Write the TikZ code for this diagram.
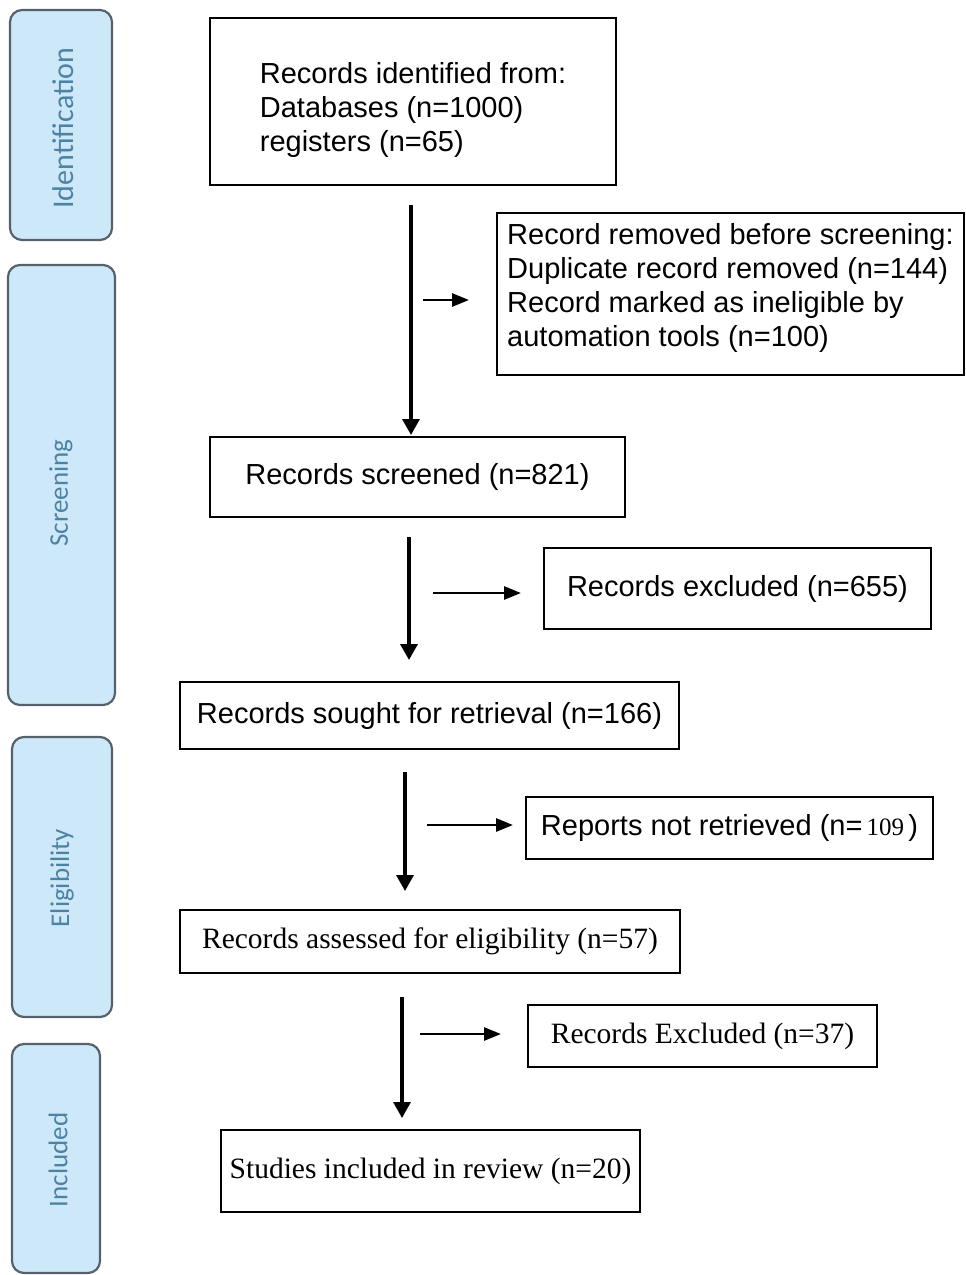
\documentclass[tikz,border=0pt]{standalone}
\usepackage{fontspec}
\setmainfont{Liberation Sans}
\newfontfamily\timesfont{Liberation Serif}
\newfontfamily\phasefont{Carlito}
\usetikzlibrary{arrows.meta,positioning}
\definecolor{phasefill}{HTML}{CDE8F8}
\definecolor{phasedraw}{HTML}{56616B}
\definecolor{phasetext}{HTML}{4D83A2}

\begin{document}
\begin{tikzpicture}[x=1pt, y=-1pt,
    box/.style={draw, line width=1.8pt, align=left, inner sep=0pt, font=\fontsize{29}{34}\selectfont},
    serifbox/.style={box, font=\timesfont\fontsize{29.5}{34}\selectfont},
    phase/.style={draw=phasedraw, fill=phasefill, line width=2.2pt, rounded corners=12pt},
    phaselabel/.style={rotate=90, text=phasetext, font=\phasefont\fontsize{27}{30}\selectfont},
    arrow/.style={-{Triangle[length=16pt,width=17pt]}, line width=3.4pt},
    sidearrow/.style={-{Triangle[length=17pt,width=13pt]}, line width=2.8pt}
]
    \useasboundingbox (0,0) rectangle (966,1275);

    % phase bars on the left
    \draw[phase] (10,10) rectangle (112,240);
    \draw[phase] (8,265) rectangle (115,705);
    \draw[phase] (12,737) rectangle (112,1017);
    \draw[phase] (12,1044) rectangle (100,1273);
    \node[phaselabel, font=\phasefont\fontsize{30}{32}\selectfont] (lid) at (63,128) {Identification};
    \node[phaselabel] (lscr) at (61,493) {Screening};
    \node[phaselabel] (lelig) at (62,878) {Eligibility};
    \node[phaselabel] (lincl) at (58,1160) {Included};

    \node[box, minimum width=406pt, minimum height=167pt, text height=99pt, text depth=0pt] (ident) at (413,101.5)
        {Records identified from:\\ Databases (n=1000)\\ registers (n=65)};
    \node[box, minimum width=467pt, minimum height=162pt, text depth=18pt] (removed) at (730.5,294)
        {Record removed before screening:\\ Duplicate record removed (n=144)\\ Record marked as ineligible by\\ automation tools (n=100)};
    \node[box, minimum width=415pt, minimum height=80pt] (screened) at (417.5,477) {Records screened (n=821)};
    \node[box, minimum width=387pt, minimum height=81pt] (excl) at (737.5,588.5) {Records excluded (n=655)};
    \node[box, minimum width=499pt, minimum height=67pt] (sought) at (429.5,715.5) {Records sought for retrieval (n=166)};
    \node[box, minimum width=407pt, minimum height=62pt] (notret) at (729.5,828)
        {Reports not retrieved (n={\timesfont\fontsize{25}{30}\selectfont\,109\,})};
    \node[serifbox, minimum width=500pt, minimum height=63pt] (assessed) at (430,941.5) {Records assessed for eligibility (n=57)};
    \node[serifbox, minimum width=349pt, minimum height=62pt] (exclrep) at (702.5,1036) {Records Excluded (n=37)};
    \node[serifbox, minimum width=419pt, minimum height=82pt] (incl) at (430.5,1171) {Studies included in review (n=20)};

    % arrow ends
    \coordinate (v1a) at (411,205);  \coordinate (v1b) at (411,435);
    \coordinate (h1a) at (423,300);  \coordinate (h1b) at (469,300);
    \coordinate (v2a) at (409,537);  \coordinate (v2b) at (409,660);
    \coordinate (h2a) at (433,593);  \coordinate (h2b) at (521,593);
    \coordinate (v3a) at (405,772);  \coordinate (v3b) at (405,891);
    \coordinate (h3a) at (427,825);  \coordinate (h3b) at (513,825);
    \coordinate (v4a) at (402,997);  \coordinate (v4b) at (402,1118);
    \coordinate (h4a) at (420,1034); \coordinate (h4b) at (501,1034);

    \draw[arrow] (v1a) -- (v1b);
    \draw[sidearrow] (h1a) -- (h1b);
    \draw[arrow] (v2a) -- (v2b);
    \draw[sidearrow] (h2a) -- (h2b);
    \draw[arrow] (v3a) -- (v3b);
    \draw[sidearrow] (h3a) -- (h3b);
    \draw[arrow] (v4a) -- (v4b);
    \draw[sidearrow] (h4a) -- (h4b);
\end{tikzpicture}
\end{document}
